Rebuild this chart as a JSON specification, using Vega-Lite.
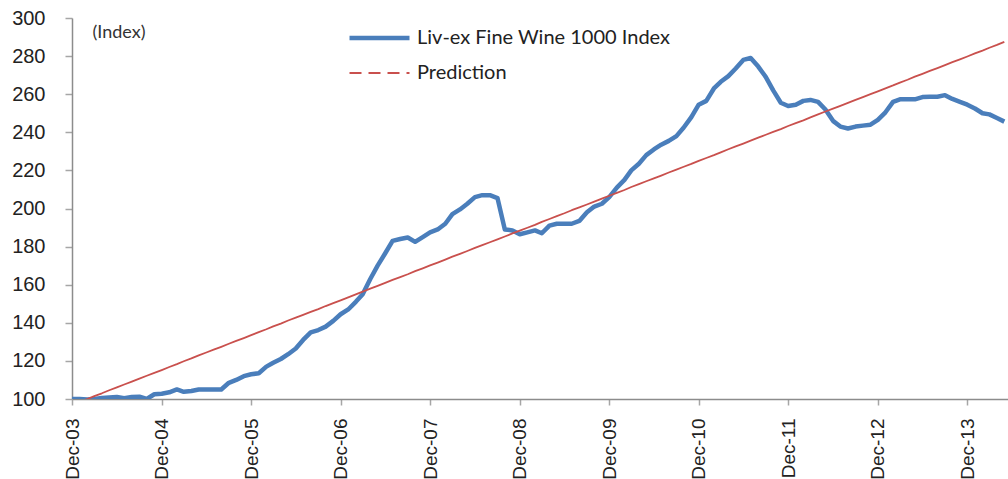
{
  "$schema": "https://vega.github.io/schema/vega-lite/v6.json",
  "width": 936,
  "height": 381,
  "autosize": {"type": "none"},
  "padding": {"left": 72, "top": 18, "right": 0, "bottom": 80},
  "background": "white",
  "config": {"view": {"stroke": null}},
  "data": {"values": [
    {"d":"2003-12-01","Liv-ex Fine Wine 1000 Index":100,"Prediction":96.9},
    {"d":"2004-01-01","Liv-ex Fine Wine 1000 Index":100,"Prediction":98.5},
    {"d":"2004-02-01","Liv-ex Fine Wine 1000 Index":99.8,"Prediction":100.0},
    {"d":"2004-03-01","Liv-ex Fine Wine 1000 Index":100,"Prediction":101.5},
    {"d":"2004-04-01","Liv-ex Fine Wine 1000 Index":100.5,"Prediction":103.0},
    {"d":"2004-05-01","Liv-ex Fine Wine 1000 Index":100.8,"Prediction":104.6},
    {"d":"2004-06-01","Liv-ex Fine Wine 1000 Index":101,"Prediction":106.1},
    {"d":"2004-07-01","Liv-ex Fine Wine 1000 Index":100.4,"Prediction":107.6},
    {"d":"2004-08-01","Liv-ex Fine Wine 1000 Index":101,"Prediction":109.1},
    {"d":"2004-09-01","Liv-ex Fine Wine 1000 Index":101.2,"Prediction":110.7},
    {"d":"2004-10-01","Liv-ex Fine Wine 1000 Index":100,"Prediction":112.2},
    {"d":"2004-11-01","Liv-ex Fine Wine 1000 Index":102.5,"Prediction":113.7},
    {"d":"2004-12-01","Liv-ex Fine Wine 1000 Index":102.8,"Prediction":115.2},
    {"d":"2005-01-01","Liv-ex Fine Wine 1000 Index":103.5,"Prediction":116.8},
    {"d":"2005-02-01","Liv-ex Fine Wine 1000 Index":105,"Prediction":118.3},
    {"d":"2005-03-01","Liv-ex Fine Wine 1000 Index":103.8,"Prediction":119.8},
    {"d":"2005-04-01","Liv-ex Fine Wine 1000 Index":104.2,"Prediction":121.3},
    {"d":"2005-05-01","Liv-ex Fine Wine 1000 Index":105,"Prediction":122.9},
    {"d":"2005-06-01","Liv-ex Fine Wine 1000 Index":105,"Prediction":124.4},
    {"d":"2005-07-01","Liv-ex Fine Wine 1000 Index":105,"Prediction":125.9},
    {"d":"2005-08-01","Liv-ex Fine Wine 1000 Index":105,"Prediction":127.4},
    {"d":"2005-09-01","Liv-ex Fine Wine 1000 Index":108.5,"Prediction":129.0},
    {"d":"2005-10-01","Liv-ex Fine Wine 1000 Index":110,"Prediction":130.5},
    {"d":"2005-11-01","Liv-ex Fine Wine 1000 Index":112,"Prediction":132.0},
    {"d":"2005-12-01","Liv-ex Fine Wine 1000 Index":113,"Prediction":133.5},
    {"d":"2006-01-01","Liv-ex Fine Wine 1000 Index":113.5,"Prediction":135.1},
    {"d":"2006-02-01","Liv-ex Fine Wine 1000 Index":117,"Prediction":136.6},
    {"d":"2006-03-01","Liv-ex Fine Wine 1000 Index":119,"Prediction":138.1},
    {"d":"2006-04-01","Liv-ex Fine Wine 1000 Index":121,"Prediction":139.6},
    {"d":"2006-05-01","Liv-ex Fine Wine 1000 Index":123.5,"Prediction":141.2},
    {"d":"2006-06-01","Liv-ex Fine Wine 1000 Index":126.5,"Prediction":142.7},
    {"d":"2006-07-01","Liv-ex Fine Wine 1000 Index":131,"Prediction":144.2},
    {"d":"2006-08-01","Liv-ex Fine Wine 1000 Index":135,"Prediction":145.7},
    {"d":"2006-09-01","Liv-ex Fine Wine 1000 Index":136.2,"Prediction":147.2},
    {"d":"2006-10-01","Liv-ex Fine Wine 1000 Index":138,"Prediction":148.8},
    {"d":"2006-11-01","Liv-ex Fine Wine 1000 Index":141,"Prediction":150.3},
    {"d":"2006-12-01","Liv-ex Fine Wine 1000 Index":144.5,"Prediction":151.8},
    {"d":"2007-01-01","Liv-ex Fine Wine 1000 Index":147,"Prediction":153.3},
    {"d":"2007-02-01","Liv-ex Fine Wine 1000 Index":151,"Prediction":154.9},
    {"d":"2007-03-01","Liv-ex Fine Wine 1000 Index":155,"Prediction":156.4},
    {"d":"2007-04-01","Liv-ex Fine Wine 1000 Index":163,"Prediction":157.9},
    {"d":"2007-05-01","Liv-ex Fine Wine 1000 Index":170,"Prediction":159.4},
    {"d":"2007-06-01","Liv-ex Fine Wine 1000 Index":176.5,"Prediction":161.0},
    {"d":"2007-07-01","Liv-ex Fine Wine 1000 Index":183,"Prediction":162.5},
    {"d":"2007-08-01","Liv-ex Fine Wine 1000 Index":184,"Prediction":164.0},
    {"d":"2007-09-01","Liv-ex Fine Wine 1000 Index":184.8,"Prediction":165.5},
    {"d":"2007-10-01","Liv-ex Fine Wine 1000 Index":182.5,"Prediction":167.1},
    {"d":"2007-11-01","Liv-ex Fine Wine 1000 Index":185,"Prediction":168.6},
    {"d":"2007-12-01","Liv-ex Fine Wine 1000 Index":187.5,"Prediction":170.1},
    {"d":"2008-01-01","Liv-ex Fine Wine 1000 Index":189,"Prediction":171.6},
    {"d":"2008-02-01","Liv-ex Fine Wine 1000 Index":192,"Prediction":173.2},
    {"d":"2008-03-01","Liv-ex Fine Wine 1000 Index":197,"Prediction":174.7},
    {"d":"2008-04-01","Liv-ex Fine Wine 1000 Index":199.5,"Prediction":176.2},
    {"d":"2008-05-01","Liv-ex Fine Wine 1000 Index":202.5,"Prediction":177.7},
    {"d":"2008-06-01","Liv-ex Fine Wine 1000 Index":206,"Prediction":179.3},
    {"d":"2008-07-01","Liv-ex Fine Wine 1000 Index":207,"Prediction":180.8},
    {"d":"2008-08-01","Liv-ex Fine Wine 1000 Index":207,"Prediction":182.3},
    {"d":"2008-09-01","Liv-ex Fine Wine 1000 Index":205.5,"Prediction":183.8},
    {"d":"2008-10-01","Liv-ex Fine Wine 1000 Index":189,"Prediction":185.3},
    {"d":"2008-11-01","Liv-ex Fine Wine 1000 Index":188.5,"Prediction":186.9},
    {"d":"2008-12-01","Liv-ex Fine Wine 1000 Index":186.5,"Prediction":188.4},
    {"d":"2009-01-01","Liv-ex Fine Wine 1000 Index":187.5,"Prediction":189.9},
    {"d":"2009-02-01","Liv-ex Fine Wine 1000 Index":188.5,"Prediction":191.4},
    {"d":"2009-03-01","Liv-ex Fine Wine 1000 Index":187,"Prediction":193.0},
    {"d":"2009-04-01","Liv-ex Fine Wine 1000 Index":191,"Prediction":194.5},
    {"d":"2009-05-01","Liv-ex Fine Wine 1000 Index":192,"Prediction":196.0},
    {"d":"2009-06-01","Liv-ex Fine Wine 1000 Index":192,"Prediction":197.5},
    {"d":"2009-07-01","Liv-ex Fine Wine 1000 Index":192,"Prediction":199.1},
    {"d":"2009-08-01","Liv-ex Fine Wine 1000 Index":193.5,"Prediction":200.6},
    {"d":"2009-09-01","Liv-ex Fine Wine 1000 Index":198,"Prediction":202.1},
    {"d":"2009-10-01","Liv-ex Fine Wine 1000 Index":201,"Prediction":203.6},
    {"d":"2009-11-01","Liv-ex Fine Wine 1000 Index":202.5,"Prediction":205.2},
    {"d":"2009-12-01","Liv-ex Fine Wine 1000 Index":206,"Prediction":206.7},
    {"d":"2010-01-01","Liv-ex Fine Wine 1000 Index":211,"Prediction":208.2},
    {"d":"2010-02-01","Liv-ex Fine Wine 1000 Index":215,"Prediction":209.7},
    {"d":"2010-03-01","Liv-ex Fine Wine 1000 Index":220,"Prediction":211.3},
    {"d":"2010-04-01","Liv-ex Fine Wine 1000 Index":223.5,"Prediction":212.8},
    {"d":"2010-05-01","Liv-ex Fine Wine 1000 Index":228,"Prediction":214.3},
    {"d":"2010-06-01","Liv-ex Fine Wine 1000 Index":231,"Prediction":215.8},
    {"d":"2010-07-01","Liv-ex Fine Wine 1000 Index":233.5,"Prediction":217.3},
    {"d":"2010-08-01","Liv-ex Fine Wine 1000 Index":235.5,"Prediction":218.9},
    {"d":"2010-09-01","Liv-ex Fine Wine 1000 Index":238,"Prediction":220.4},
    {"d":"2010-10-01","Liv-ex Fine Wine 1000 Index":242.5,"Prediction":221.9},
    {"d":"2010-11-01","Liv-ex Fine Wine 1000 Index":248,"Prediction":223.4},
    {"d":"2010-12-01","Liv-ex Fine Wine 1000 Index":254.5,"Prediction":225.0},
    {"d":"2011-01-01","Liv-ex Fine Wine 1000 Index":256.5,"Prediction":226.5},
    {"d":"2011-02-01","Liv-ex Fine Wine 1000 Index":263,"Prediction":228.0},
    {"d":"2011-03-01","Liv-ex Fine Wine 1000 Index":266.5,"Prediction":229.5},
    {"d":"2011-04-01","Liv-ex Fine Wine 1000 Index":269.5,"Prediction":231.1},
    {"d":"2011-05-01","Liv-ex Fine Wine 1000 Index":273.5,"Prediction":232.6},
    {"d":"2011-06-01","Liv-ex Fine Wine 1000 Index":278,"Prediction":234.1},
    {"d":"2011-07-01","Liv-ex Fine Wine 1000 Index":279,"Prediction":235.6},
    {"d":"2011-08-01","Liv-ex Fine Wine 1000 Index":274.5,"Prediction":237.2},
    {"d":"2011-09-01","Liv-ex Fine Wine 1000 Index":269,"Prediction":238.7},
    {"d":"2011-10-01","Liv-ex Fine Wine 1000 Index":262,"Prediction":240.2},
    {"d":"2011-11-01","Liv-ex Fine Wine 1000 Index":255.5,"Prediction":241.7},
    {"d":"2011-12-01","Liv-ex Fine Wine 1000 Index":253.8,"Prediction":243.3},
    {"d":"2012-01-01","Liv-ex Fine Wine 1000 Index":254.5,"Prediction":244.8},
    {"d":"2012-02-01","Liv-ex Fine Wine 1000 Index":256.5,"Prediction":246.3},
    {"d":"2012-03-01","Liv-ex Fine Wine 1000 Index":257,"Prediction":247.8},
    {"d":"2012-04-01","Liv-ex Fine Wine 1000 Index":256,"Prediction":249.4},
    {"d":"2012-05-01","Liv-ex Fine Wine 1000 Index":252,"Prediction":250.9},
    {"d":"2012-06-01","Liv-ex Fine Wine 1000 Index":246,"Prediction":252.4},
    {"d":"2012-07-01","Liv-ex Fine Wine 1000 Index":243,"Prediction":253.9},
    {"d":"2012-08-01","Liv-ex Fine Wine 1000 Index":242,"Prediction":255.4},
    {"d":"2012-09-01","Liv-ex Fine Wine 1000 Index":243,"Prediction":257.0},
    {"d":"2012-10-01","Liv-ex Fine Wine 1000 Index":243.5,"Prediction":258.5},
    {"d":"2012-11-01","Liv-ex Fine Wine 1000 Index":244,"Prediction":260.0},
    {"d":"2012-12-01","Liv-ex Fine Wine 1000 Index":246.5,"Prediction":261.5},
    {"d":"2013-01-01","Liv-ex Fine Wine 1000 Index":250.5,"Prediction":263.1},
    {"d":"2013-02-01","Liv-ex Fine Wine 1000 Index":256,"Prediction":264.6},
    {"d":"2013-03-01","Liv-ex Fine Wine 1000 Index":257.3,"Prediction":266.1},
    {"d":"2013-04-01","Liv-ex Fine Wine 1000 Index":257.3,"Prediction":267.6},
    {"d":"2013-05-01","Liv-ex Fine Wine 1000 Index":257.3,"Prediction":269.2},
    {"d":"2013-06-01","Liv-ex Fine Wine 1000 Index":258.5,"Prediction":270.7},
    {"d":"2013-07-01","Liv-ex Fine Wine 1000 Index":258.7,"Prediction":272.2},
    {"d":"2013-08-01","Liv-ex Fine Wine 1000 Index":258.7,"Prediction":273.7},
    {"d":"2013-09-01","Liv-ex Fine Wine 1000 Index":259.5,"Prediction":275.3},
    {"d":"2013-10-01","Liv-ex Fine Wine 1000 Index":257.5,"Prediction":276.8},
    {"d":"2013-11-01","Liv-ex Fine Wine 1000 Index":256,"Prediction":278.3},
    {"d":"2013-12-01","Liv-ex Fine Wine 1000 Index":254.5,"Prediction":279.8},
    {"d":"2014-01-01","Liv-ex Fine Wine 1000 Index":252.5,"Prediction":281.4},
    {"d":"2014-02-01","Liv-ex Fine Wine 1000 Index":250,"Prediction":282.9},
    {"d":"2014-03-01","Liv-ex Fine Wine 1000 Index":249.4,"Prediction":284.4},
    {"d":"2014-04-01","Liv-ex Fine Wine 1000 Index":247.5,"Prediction":285.9},
    {"d":"2014-05-01","Liv-ex Fine Wine 1000 Index":245.6,"Prediction":287.5}
  ]},
  "transform": [
    {"fold": ["Liv-ex Fine Wine 1000 Index", "Prediction"], "as": ["series", "value"]}
  ],
  "mark": {"type": "line", "clip": true, "strokeJoin": "round"},
  "encoding": {
    "x": {
      "field": "d",
      "type": "temporal",
      "scale": {
        "type": "utc",
        "domain": [{"year": 2003, "month": 12, "date": 1, "utc": true}, {"year": 2014, "month": 5, "date": 16, "utc": true}]
      },
      "axis": {
        "title": null,
        "format": "%b-%y",
        "values": [
          {"year": 2003, "month": 12, "date": 1, "utc": true},
          {"year": 2004, "month": 12, "date": 1, "utc": true},
          {"year": 2005, "month": 12, "date": 1, "utc": true},
          {"year": 2006, "month": 12, "date": 1, "utc": true},
          {"year": 2007, "month": 12, "date": 1, "utc": true},
          {"year": 2008, "month": 12, "date": 1, "utc": true},
          {"year": 2009, "month": 12, "date": 1, "utc": true},
          {"year": 2010, "month": 12, "date": 1, "utc": true},
          {"year": 2011, "month": 12, "date": 1, "utc": true},
          {"year": 2012, "month": 12, "date": 1, "utc": true},
          {"year": 2013, "month": 12, "date": 1, "utc": true}
        ],
        "labelAngle": 270,
        "labelAlign": "right",
        "labelBaseline": "middle",
        "labelDy": 6,
        "labelFont": "Liberation Sans",
        "labelFontSize": 19,
        "labelColor": "#222222",
        "labelPadding": 13,
        "labelFlush": false,
        "labelOverlap": false,
        "domainColor": "#8c8c8c",
        "domainWidth": 1.5,
        "tickColor": "#a6a6a6",
        "tickWidth": 1.5,
        "tickSize": 6,
        "grid": false
      }
    },
    "y": {
      "field": "value",
      "type": "quantitative",
      "scale": {"domain": [100, 300], "nice": false, "zero": false},
      "axis": {
        "title": "(Index)",
        "titleAngle": 0,
        "titleX": 20,
        "titleY": 14,
        "titleAlign": "left",
        "titleBaseline": "middle",
        "titleFont": "Lato",
        "titleFontSize": 18,
        "titleFontWeight": "normal",
        "titleColor": "#333333",
        "values": [100, 120, 140, 160, 180, 200, 220, 240, 260, 280, 300],
        "labelFont": "Liberation Sans",
        "labelFontSize": 20,
        "labelColor": "#222222",
        "labelPadding": 20,
        "labelFlush": false,
        "domainColor": "#8c8c8c",
        "domainWidth": 1.5,
        "tickColor": "#a6a6a6",
        "tickWidth": 1.5,
        "tickSize": 7,
        "grid": false
      }
    },
    "color": {
      "field": "series",
      "type": "nominal",
      "scale": {"domain": ["Liv-ex Fine Wine 1000 Index", "Prediction"], "range": ["#4A7EBB", "#C9504D"]},
      "legend": {
        "title": null,
        "orient": "none",
        "legendX": 275,
        "legendY": 5,
        "padding": 0,
        "symbolType": "stroke",
        "symbolSize": 3600,
        "clipHeight": 30,
        "rowPadding": 5,
        "labelOffset": 5,
        "labelFont": "Lato",
        "labelFontSize": 20,
        "labelColor": "#222222",
        "labelLimit": 400,
        "encode": {
          "symbols": {
            "update": {
              "strokeWidth": {"signal": "datum.value == 'Prediction' ? 2 : 4.5"},
              "strokeDash": {"signal": "datum.value == 'Prediction' ? [12, 7] : [1, 0]"}
            }
          }
        }
      }
    },
    "strokeWidth": {
      "field": "series",
      "type": "nominal",
      "scale": {"domain": ["Liv-ex Fine Wine 1000 Index", "Prediction"], "range": [4.5, 1.8]},
      "legend": null
    }
  }
}
